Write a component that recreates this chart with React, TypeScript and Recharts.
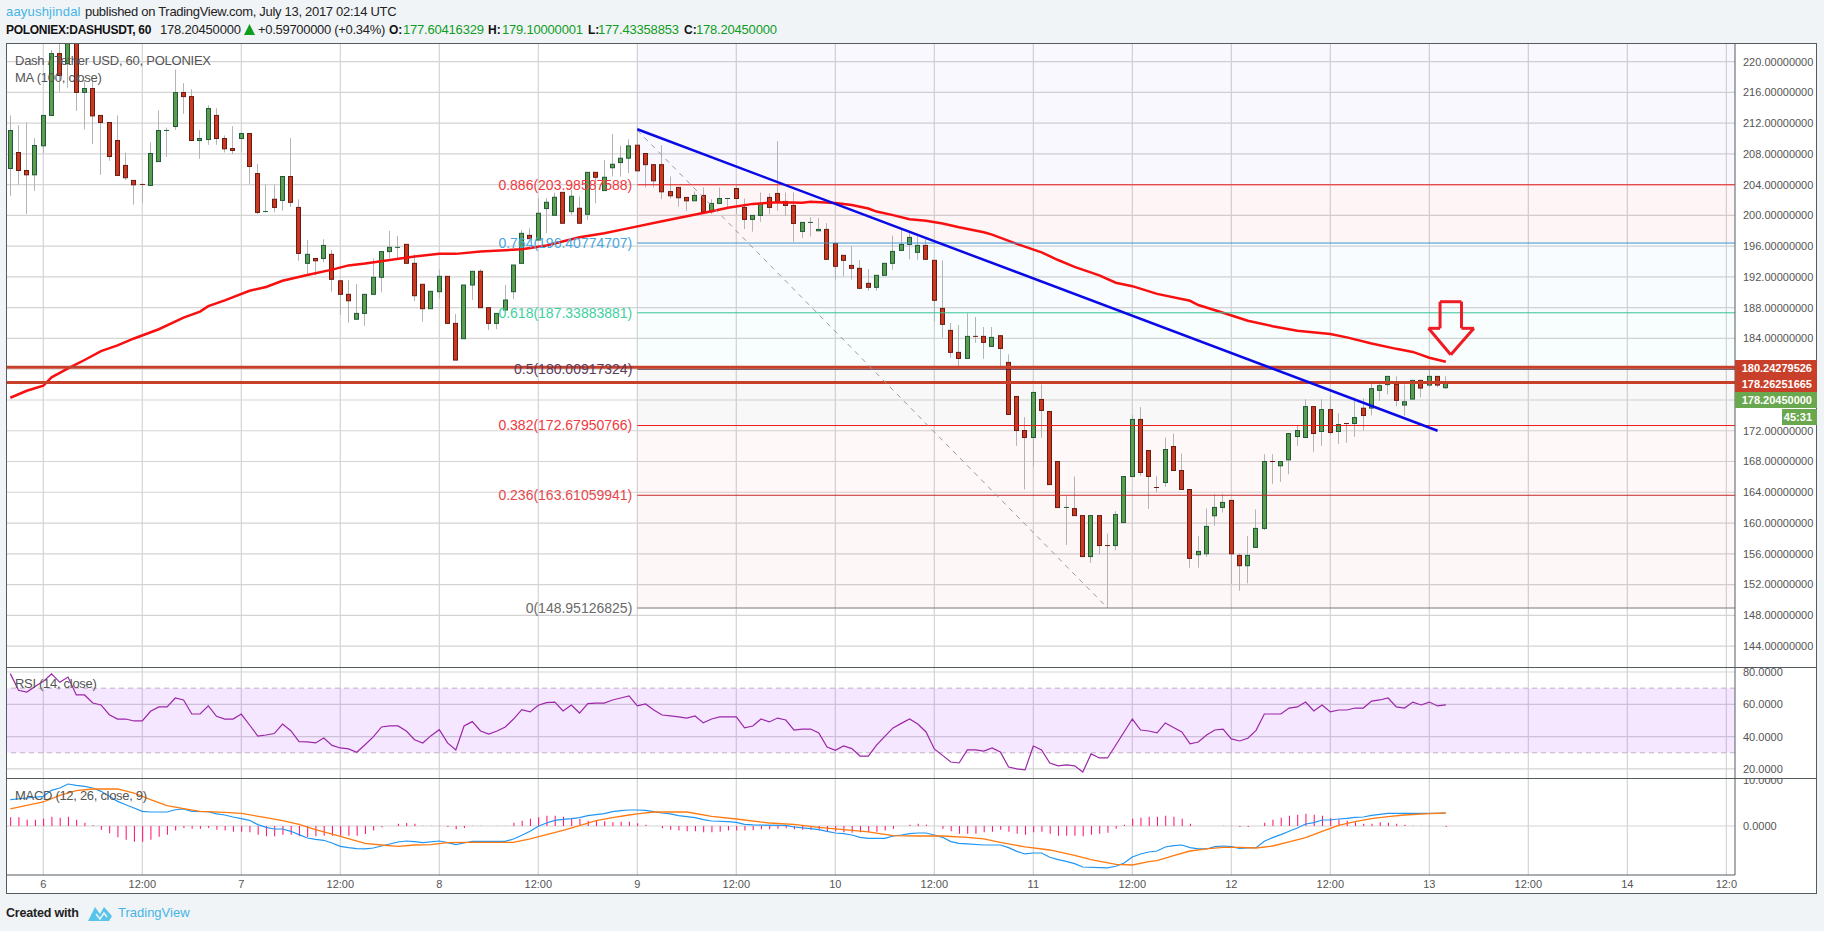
import React from 'react';
import {
  ComposedChart,
  Bar,
  Line,
  XAxis,
  YAxis,
  CartesianGrid,
  ReferenceArea,
  ReferenceLine,
} from 'recharts';

// hours counted from the start of the 6th, one candle per hour
const firstHour = -4;

const opens = [
  206.1, 208.18, 205.84, 205.28, 209.05, 213, 221.04, 219.74, 224.4, 216,
  216.5, 213, 212.08, 209.74, 206.5, 204.55, 204.03, 203.9, 207, 211,
  211.56, 215.97, 215.45, 209.74, 209.87, 213, 210, 208.7, 210, 210.65,
  205.45, 200.4, 202.1, 201.95, 205.06, 201.04, 193.77, 194.4, 194.4, 194.94,
  191.5, 189.74, 186.5, 187.26, 189.74, 191.95, 195.3, 195.85, 196.24, 193.77,
  191.04, 187.87, 190.08, 192.08, 185.96, 183.97, 190.95, 192.73, 188, 185.96,
  187.7, 190.08, 193.77, 197.41, 196.8, 200.89, 200.02, 203, 200.49, 200.93,
  200.15, 205.6, 203.23, 206.2, 206.87, 207.44, 209.13, 208.05, 206.6, 206.6,
  203.1, 203.64, 202.34, 201.9, 202.6, 200.48, 201.56, 202.2, 203.5, 201.04,
  199.48, 200, 202.34, 202.86, 201.82, 201.3, 197.92, 199.09, 198, 198.18,
  196.36, 194.81, 193.5, 193.12, 191.17, 190.65, 192.21, 193.77, 195.45, 196.23,
  195.2, 196.1, 194.16, 187.91, 185.05, 182.19, 181.4, 184.27, 184.27, 182.97,
  184.36, 180.89, 176.46, 172.03, 171.12, 176.07, 174.5, 168, 162.01, 161.88,
  160.97, 155.64, 160.97, 157.07, 157.07, 160.06, 166.05, 173.47, 169.43, 164.62,
  165.27, 169.95, 166.83, 164.36, 155.88, 156, 160.94, 162.03, 162.94, 155.79,
  154.45, 156.83, 159.3, 168, 167.44, 168.22, 171.25, 171.12, 175.14, 171.9,
  174.75, 171.9, 172.94, 172.94, 174.93, 174.95, 177.25, 178, 178.03, 175.34,
  176.12, 178.55, 177.94, 179.07, 177.6,
];
const closes = [
  211.04, 205.84, 205.28, 209.09, 213, 221.04, 218.2, 224, 216, 216.5,
  212.94, 212.08, 207.66, 205.2, 204.9, 203.98, 204, 208.05, 211.04, 211.05,
  215.97, 215.45, 209.74, 210, 213.9, 210, 208.66, 208.44, 210.65, 206.36,
  200.39, 200.5, 201.04, 205.06, 201.7, 195.06, 194.94, 194.1, 196.1, 191.69,
  189.74, 188.9, 187.26, 189.74, 191.95, 195.3, 195.85, 195.85, 193.77, 189.56,
  187.87, 190.13, 192.08, 185.96, 181.19, 190.95, 192.73, 188, 185.96, 187.26,
  189, 193.55, 197.67, 196.98, 200.28, 201.71, 202.36, 198.98, 202.49, 198.98,
  205.6, 204.96, 204.96, 206.65, 207.44, 209.04, 205.8, 206.6, 204.5, 203.07,
  202.55, 202.3, 201.9, 202.6, 200.48, 201.56, 202.2, 202.2, 202.2, 199.48,
  200, 201.56, 201.04, 201.82, 201.3, 198.96, 199.09, 199.09, 198.18, 194.29,
  193.38, 194.16, 193.12, 190.52, 190.65, 192.21, 193.77, 195.32, 196.23, 197.14,
  196.1, 194.29, 188.96, 185.83, 182.19, 181.4, 184.27, 184.24, 183.49, 184.14,
  182.7, 174.12, 172.03, 171.12, 176.98, 174.64, 165, 162.01, 162.03, 160.97,
  155.64, 160.97, 157.07, 157.05, 161.1, 166.05, 173.47, 166.57, 166.05, 164.6,
  169.56, 166.83, 164.36, 155.4, 156.31, 159.56, 162.03, 162.68, 156, 154.45,
  155.79, 159.3, 168, 167.97, 168, 171.64, 172.03, 175.14, 171.64, 174.75,
  171.77, 172.81, 172.92, 173.72, 173.98, 177.47, 177.86, 179.07, 175.95, 175.77,
  178.55, 177.55, 179.07, 177.94, 178.2,
];
const highs = [
  213, 211.73, 212.08, 210.04, 213, 221.5, 223, 225, 225, 217.6,
  217.6, 213, 212.08, 213, 208.2, 204.55, 204.03, 209.5, 213.64, 211.43,
  218.96, 217.19, 216.4, 211.08, 214.33, 213.94, 210.4, 211.6, 210.78, 210.65,
  206.67, 204, 204, 205.06, 210.04, 202.08, 196.8, 194.4, 196.9, 195.5,
  191.6, 191.6, 191.08, 189.74, 194.4, 195.3, 197.98, 197.33, 196.24, 194.94,
  191.04, 190.13, 192.99, 192.08, 187.18, 190.95, 192.73, 193, 188, 187.26,
  190.95, 193.55, 198.1, 198.33, 202.23, 202.23, 202.97, 203, 203.3, 202.45,
  205.6, 205.6, 207.2, 210.6, 209.08, 209.9, 211.43, 208.05, 206.6, 209.13,
  205.06, 203.64, 202.34, 203.12, 203.64, 202.1, 203.64, 202.2, 204.03, 202.2,
  200, 202.99, 202.86, 209.65, 202.99, 202.99, 199.09, 199.74, 199.65, 199,
  196.36, 194.81, 196, 194.2, 193.03, 192.21, 193.77, 197.36, 198.31, 197.92,
  197.36, 197.14, 194.16, 194.16, 186, 185.74, 187.26, 186.79, 185.48, 185.48,
  184.36, 181.93, 176.46, 173.77, 176.98, 178.02, 174.5, 168, 163.49, 166.05,
  160.97, 160.97, 160.97, 158.63, 161.54, 166.05, 174.03, 175.07, 169.43, 166.09,
  171.12, 171.64, 169.04, 164.36, 158.3, 161.9, 163.76, 163.76, 162.94, 156.05,
  158.3, 161.77, 168.95, 168.95, 168, 171.64, 172.7, 176.1, 175.14, 176.1,
  176.62, 174.28, 172.94, 176.31, 176.2, 178.1, 178.26, 179.07, 179.07, 178.03,
  178.55, 178.55, 179.94, 179.07, 179.1,
];
const lows = [
  202.55, 203.98, 200.2, 203.2, 208.1, 212.9, 216.06, 216.6, 213.6, 211.2,
  209.26, 205.28, 207.1, 205.2, 204.6, 201.4, 201.65, 203.9, 207, 207.6,
  211.13, 213.2, 209.74, 207.36, 209.18, 209.18, 208.18, 207.97, 208.18, 204.1,
  200.17, 200.4, 200.4, 200.6, 201.1, 194.1, 192.4, 192.2, 193.9, 190.08,
  187.05, 186.05, 186.48, 185.66, 189.74, 190, 194.4, 194.4, 193.77, 188.87,
  186.18, 187.87, 189.2, 185.96, 181.19, 183.97, 189, 188, 185.09, 185.2,
  187.7, 189.13, 193.77, 196.98, 196.8, 197.67, 200.02, 198.98, 200.06, 198.98,
  199.41, 201.58, 203.23, 205.05, 205.05, 205.5, 205.8, 203.64, 203.64, 202.1,
  202.2, 201.13, 200.6, 201.9, 200.48, 200.17, 201.56, 201.04, 200.17, 198.23,
  197.88, 199.18, 200.17, 200.6, 199.96, 196.58, 197.06, 197.27, 198, 194.29,
  191.65, 192.08, 191.65, 190.43, 190.2, 190.2, 192.21, 192.94, 195.45, 194.29,
  194.24, 194.29, 186.19, 184.1, 181.5, 180.4, 181.4, 183.44, 181.36, 182.97,
  180.4, 174.12, 170.04, 164.36, 167.3, 171.08, 165, 162.01, 157.15, 160.97,
  155.64, 154.81, 155.9, 148.95, 156.46, 160.06, 166.05, 166.13, 161.84, 164.05,
  164.7, 166.83, 164.36, 154.19, 154.19, 155.6, 159.65, 161.38, 152.07, 151.2,
  152.15, 156.83, 159.08, 165.1, 165.36, 166.35, 170.03, 171.12, 169.26, 170.03,
  171.5, 170.29, 170.42, 171.2, 172.03, 174, 175.86, 176.73, 175.17, 173.95,
  176.12, 176.34, 177.68, 177.68, 177.43,
];

// MA(100), only read where the curve bends: [hour, price]
const maPoints = [
  [-4, 176.29], [-2, 177.2], [0, 177.85], [1, 178.95], [3, 180.1], [5, 181.2], [7, 182.35], [9, 183.1],
  [11, 184], [14, 185.2], [17, 186.7], [19, 187.5], [20, 188.2], [22, 188.95], [25, 190.2], [27, 190.7],
  [29, 191.5], [32, 192.25], [35, 192.95], [37, 193.5], [39, 193.75], [42, 194.2], [45, 194.65], [48, 195],
  [50, 195], [53, 195.3], [58, 195.6], [61, 196.1], [65, 197.15], [68, 197.67], [71, 198.35], [75, 199.25],
  [78, 199.9], [81, 200.55], [83, 201], [86, 201.5], [89, 201.7], [92, 201.65], [93, 201.77], [96, 201.6],
  [98, 201.35], [100, 200.9], [101, 200.5], [103, 200.04], [105, 199.5], [107, 199.3], [109, 198.95], [111, 198.45],
  [114, 197.8], [115, 197.5], [118, 196.3], [121, 195.2], [123, 194.2], [125, 193.3], [128, 192.2], [130, 191.25],
  [132, 190.8], [135, 189.8], [139, 188.9], [140, 188.35], [143, 187.35], [146, 186.3], [149, 185.6], [152, 185],
  [156, 184.57], [158, 184.14], [161, 183.35], [164, 182.65], [166, 182.25], [168, 181.5], [170, 180.97],
];

const rsiValues = [
  79, 68.7, 67.6, 71.1, 74.2, 78.8, 73.6, 76.9, 65.8, 65.8,
  60.8, 59.6, 53.6, 50.9, 50.9, 49.7, 49.7, 55.7, 58.4, 58.4,
  63.9, 62.7, 54, 54, 59, 52.6, 50.9, 50.9, 54, 47.2,
  40.4, 41, 41.9, 47.8, 43.7, 36.9, 36.7, 36.1, 39.2, 34.6,
  33, 32.4, 30.3, 35, 39.8, 46, 46.6, 46.6, 43.5, 38.1,
  36.1, 40.6, 44.3, 36.1, 31.8, 46.6, 49.3, 43.5, 41.6, 43.5,
  46, 50.9, 56.7, 55.3, 59.4, 61, 61.4, 55.9, 59.6, 54.6,
  60.4, 60.8, 60.8, 62.7, 63.9, 65.2, 59, 60.2, 56.5, 53.4,
  52.8, 52.2, 51.5, 52.8, 48.5, 50.9, 52.2, 52.2, 52.2, 45.4,
  46.6, 50.9, 49.1, 51.5, 50.3, 44.1, 44.7, 44.7, 42.3, 33.6,
  31.5, 34.2, 32.6, 28, 28, 34.8, 40.2, 45.4, 48.2, 50.9,
  47.8, 42.9, 32.4, 28.4, 24.3, 23.7, 31.8, 31.8, 31.1, 33,
  30.5, 21.2, 20, 19.4, 34.2, 31.8, 23.7, 21.9, 22.5, 21.9,
  18.1, 29.3, 26.8, 26.8, 34.8, 42.9, 50.9, 44.1, 43.5, 42.3,
  48.5, 45.6, 42.9, 35.5, 36.7, 41, 44.1, 44.7, 38.6, 37.3,
  39, 43.9, 54, 54, 54, 57.7, 58.4, 61.4, 55.9, 59.6,
  55.3, 56.5, 56.5, 57.7, 57.7, 62, 62.7, 63.9, 58.4, 57.7,
  61.4, 59.6, 61.4, 59, 59.6,
];

const macdHist = [
  1.87, 1.87, 1.37, 1.37, 1.58, 2, 1.8, 2, 1.37, 0.72,
  0.14, -0.79, -1.58, -2.45, -2.95, -3.38, -3.38, -2.95, -2.3, -1.87,
  -1, -0.43, -0.58, -0.58, -0.43, -0.79, -1, -1.22, -1.22, -1.37,
  -1.87, -2.23, -2.23, -1.87, -1.87, -2.23, -2.37, -2.23, -2.09, -2.09,
  -2.09, -2.09, -2.09, -1.73, -1, -0.29, 0, 0.5, 0.65, 0.5,
  0.07, 0.07, 0.07, -0.22, -0.72, -0.43, 0.07, 0.07, 0, 0.07,
  0.07, 0.72, 1.15, 1.58, 1.87, 2.23, 2.23, 2, 1.73, 1.51,
  1.15, 1.15, 1, 0.79, 0.94, 0.94, 0.58, 0.29, 0, -0.5,
  -0.79, -1, -1.15, -1.15, -1.37, -1.37, -1.22, -1, -1, -1,
  -0.94, -0.72, -0.72, -0.58, -0.5, -0.72, -0.79, -0.79, -0.94, -1.15,
  -1.15, -1.37, -1.44, -1.37, -1.29, -1.22, -1, -0.58, 0, 0.29,
  0.5, 0.29, 0, -0.58, -1.15, -1.65, -1.65, -1.65, -1.37, -1.22,
  -0.79, -1.22, -1.65, -1.87, -1.37, -1.22, -1.65, -2.09, -2.09, -2.09,
  -2.23, -1.87, -1.65, -1.44, -0.58, 0.29, 1.58, 1.8, 2.01, 2.01,
  2.23, 2.01, 1.58, 0.5, 0, 0, 0, 0.07, 0.07, -0.22,
  -0.22, 0, 0.72, 1.37, 1.8, 2.23, 2.45, 2.66, 2.45, 2.23,
  1.73, 1.44, 1.15, 0.79, 0.5, 0.5, 0.79, 0.72, 0.5, 0.29,
  0.07, 0.07, 0.07, 0, -0.22,
];

const macdPoints = [
  [-4, 5.68], [-2, 6.04], [0, 6.4], [1, 7.7], [2, 8.2], [3, 9.06], [4, 8.78], [5, 8.56], [6, 8.2], [7, 7.48],
  [8, 6.4], [9, 5.32], [10, 4.6], [11, 3.88], [12, 3.17], [13, 3.02], [15, 3.02], [16, 3.5], [17, 3.67], [18, 3.17],
  [20, 3.1], [21, 2.6], [22, 2.37], [23, 1.94], [24, 1.58], [25, 1.22], [26, 0.29], [27, -0.29], [28, -0.65], [29, -0.65],
  [30, -1.15], [31, -1.87], [32, -2.59], [33, -2.88], [34, -3.09], [35, -3.67], [36, -4.39], [37, -4.68], [38, -4.89], [39, -4.96],
  [40, -4.75], [41, -4.32], [42, -3.88], [43, -3.45], [44, -3.24], [45, -3.38], [46, -3.6], [48, -3.24], [49, -3.6], [50, -4.03],
  [51, -3.67], [52, -3.31], [56, -3.31], [57, -2.8], [58, -2], [59, -1.15], [60, -0.07], [61, 0.65], [62, 1.22], [63, 1.44],
  [64, 1.58], [65, 1.8], [66, 2.23], [67, 2.45], [68, 2.66], [69, 3.1], [70, 3.31], [71, 3.45], [72, 3.45], [73, 3.38],
  [74, 3.1], [75, 2.8], [76, 2.6], [77, 2.23], [79, 1.8], [80, 1.37], [81, 1.08], [83, 0.94], [84, 0.79], [85, 0.36],
  [86, 0.22], [90, 0.14], [91, -0.22], [93, -0.58], [94, -0.79], [95, -1.15], [96, -1.51], [97, -1.65], [98, -1.94], [99, -2.45],
  [100, -2.66], [102, -2.66], [103, -2.16], [104, -1.94], [105, -1.65], [106, -1.51], [107, -1.51], [108, -1.94], [109, -2.45], [110, -3.38],
  [111, -3.74], [112, -3.88], [114, -4.1], [116, -4.1], [117, -4.68], [118, -5.47], [119, -6.04], [120, -5.83], [121, -5.83], [122, -6.76],
  [123, -7.27], [124, -7.63], [125, -8.13], [126, -8.85], [128, -8.99], [129, -9.06], [130, -8.7], [131, -7.99], [132, -6.69], [133, -6.04],
  [134, -5.61], [135, -5.4], [136, -4.53], [137, -4.24], [138, -4.1], [139, -4.68], [140, -4.96], [141, -4.96], [142, -4.46], [143, -4.32],
  [144, -4.46], [145, -4.82], [146, -4.75], [147, -4.68], [148, -3.31], [149, -2.52], [150, -1.87], [151, -1.15], [152, -0.43], [153, 0.43],
  [154, 0.72], [155, 1.29], [156, 1.29], [157, 1.51], [158, 1.65], [159, 1.87], [160, 1.94], [161, 2.3], [162, 2.52], [163, 2.73],
  [169, 2.73], [170, 2.8],
];

const signalPoints = [
  [-4, 3.67], [-2, 4.46], [0, 5.18], [2, 6.62], [4, 7.63], [6, 7.99], [9, 7.99], [11, 7.12], [13, 5.68], [15, 4.39],
  [17, 3.74], [19, 3.17], [22, 2.95], [24, 2.73], [27, 1.8], [29, 1.15], [31, 0.36], [33, -0.79], [36, -2.23], [39, -3.74],
  [41, -4.1], [43, -4.39], [45, -4.1], [47, -4.03], [49, -3.6], [51, -3.53], [57, -3.53], [59, -2.8], [61, -1.87], [63, -0.94],
  [65, 0.07], [67, 1.15], [69, 1.8], [71, 2.37], [72, 2.6], [74, 3.02], [78, 3.02], [81, 2.09], [84, 1.51], [88, 0.65],
  [91, 0.36], [94, -0.29], [97, -0.79], [100, -1.29], [103, -2.09], [106, -2.16], [109, -2.16], [112, -2.45], [114, -2.8], [116, -3.53],
  [119, -4.53], [122, -5.18], [125, -6.33], [127, -7.27], [130, -8.27], [132, -8.42], [134, -7.7], [135, -7.48], [137, -6.4], [139, -5.4],
  [141, -4.96], [143, -4.6], [145, -4.6], [147, -4.75], [149, -4.32], [151, -3.45], [153, -2.52], [155, -1.15], [157, 0.14], [159, 0.94],
  [161, 1.58], [163, 2.01], [165, 2.37], [168, 2.66], [170, 2.8],
];

const priceTicks = [144, 148, 152, 156, 160, 164, 168, 172, 176, 180, 184, 188, 192, 196, 200, 204, 208, 212, 216, 220];
const rsiTicks = [20, 40, 60, 80];
const macdTicks = [0, 10];
const hourTicks = [0, 12, 24, 36, 48, 60, 72, 84, 96, 108, 120, 132, 144, 156, 168, 180, 192, 204];
const hourLabels = ['6', '12:00', '7', '12:00', '8', '12:00', '9', '12:00', '10', '12:00', '11', '12:00', '12', '12:00', '13', '12:00', '14', '12:0'];

const fibRatios = ['0', '0.236', '0.382', '0.5', '0.618', '0.764', '0.886'];
const fibPrices = [148.95126825, 163.61059941, 172.67950766, 180.00917324, 187.33883881, 196.40774707, 203.98587588];
const fibLabels = ['148.95126825', '163.61059941', '172.67950766', '180.00917324', '187.33883881', '196.40774707', '203.98587588'];
const fibLineColors = ['#787878', '#c8282c', '#ee1c1c', '#4a2440', '#35c595', '#3d94cf', '#ee1c1c'];
const fibTextColors = ['#6a6a6a', '#e4484c', '#f0393e', '#5c3a58', '#3ed1a0', '#48a6dc', '#f0393e'];
const fibBandColors = ['#d82020', '#e83030', '#888888', '#22c8b8', '#30a8e0', '#f02020', '#4a4af0'];
const fibBandOpacity = [0.035, 0.035, 0.06, 0.03, 0.03, 0.04, 0.04];
const pricedLines = [180.24279526, 178.26251665];

const trendHours = [72, 169];
const trendPrices = [211.2, 172];
const fibDiagonalHours = [72, 129];
const fibDiagonalPrices = [211.07, 148.95];
const arrowHours = [169.3, 171.9, 171.9, 173.4, 170.6, 167.9, 169.3, 169.3];
const arrowPrices = [188.78, 188.78, 185.32, 185.32, 181.88, 185.32, 185.32, 188.78];

const X_DOMAIN: [number, number] = [-4.52, 205.05];
const PRICE_DOMAIN: [number, number] = [141.28, 222.29];
const RSI_DOMAIN: [number, number] = [14.4, 83.1];
const MACD_DOMAIN: [number, number] = [-10.58, 10.36];

const FONT = '"Liberation Sans", Arial, sans-serif';
const GRID = '#d4d4d4';
const FRAME = '#555c60';
const BLUE_LINK = '#45b4e6';
const UP_GREEN = '#0f9d1e';

const lookup = (points: number[][], hour: number) => {
  const hit = points.find((p) => p[0] === hour);
  return hit ? hit[1] : null;
};

const rows = opens.map((open, i) => {
  const hour = firstHour + i;
  return {
    hour,
    open,
    close: closes[i],
    range: [lows[i], highs[i]],
    ma: lookup(maPoints, hour),
    rsi: rsiValues[i],
    hist: macdHist[i],
    macd: lookup(macdPoints, hour),
    signal: lookup(signalPoints, hour),
  };
});

// wick and body, scaled from the rectangle the Bar gives for low..high
const Candle = (props: any) => {
  const { x, y, width, height, payload } = props;
  const [low, high] = payload.range;
  const perUnit = height / (high - low);
  const cx = Math.round(x + width / 2) - 0.5;
  const up = payload.close >= payload.open;
  const top = y + (high - Math.max(payload.open, payload.close)) * perUnit;
  const bottom = y + (high - Math.min(payload.open, payload.close)) * perUnit;
  const stroke = up ? '#1e5a3a' : '#6b1a12';
  const fill = up ? '#5b9d4c' : '#c8391f';
  return (
    <g>
      <line x1={cx} x2={cx} y1={y} y2={y + height} stroke="#b4b4b4" strokeWidth={1} />
      {bottom - top < 1 ? (
        <line x1={cx - 2.5} x2={cx + 2.5} y1={top} y2={top} stroke={stroke} strokeWidth={1} />
      ) : (
        <rect x={cx - 2} y={top} width={4} height={bottom - top} fill={fill} stroke={stroke} strokeWidth={1} />
      )}
    </g>
  );
};

const tickStyle = { fontSize: 11, fill: '#555', fontFamily: FONT };
const priceFormat = (v: number) => v.toFixed(8);
const paneFormat = (v: number) => v.toFixed(4);
const hourFormat = (v: number) => hourLabels[hourTicks.indexOf(v)] ?? '';

const Abs = ({ x, y, color, size = 13, weight, spacing = 0, children }: any) => (
  <div
    style={{
      position: 'absolute',
      left: x,
      top: y,
      color,
      fontSize: size,
      fontWeight: weight,
      fontFamily: FONT,
      letterSpacing: spacing,
      lineHeight: '16px',
      whiteSpace: 'nowrap',
      zIndex: 5,
    }}
  >
    {children}
  </div>
);

const PriceTag = ({ y, h = 16, x = 1735, bg, children }: any) => (
  <div
    style={{
      position: 'absolute',
      left: x,
      top: y,
      width: 1817 - x,
      height: h,
      lineHeight: h + 'px',
      background: bg,
      color: '#fff',
      fontFamily: FONT,
      fontSize: 11,
      fontWeight: 700,
      textAlign: 'right',
      paddingRight: 5,
      boxSizing: 'border-box',
      zIndex: 5,
    }}
  >
    {children}
  </div>
);

const App: React.FC = () => {
  return (
    <div style={{ position: 'absolute', left: 0, top: 0, width: 1824, height: 931, background: '#f1f4f7', overflow: 'hidden' }}>
      <Abs x={6} y={4} color={BLUE_LINK} spacing={0.2}>aayushjindal</Abs>
      <Abs x={85} y={4} color="#222" spacing={-0.3}>published on TradingView.com, July 13, 2017 02:14 UTC</Abs>
      <Abs x={6} y={21.5} color="#111" size={12} weight={700} spacing={-0.3}>POLONIEX:DASHUSDT, 60</Abs>
      <Abs x={160} y={21.5} color="#222" spacing={-0.2}>178.20450000</Abs>
      <svg style={{ position: 'absolute', left: 244, top: 24 }} width={11} height={11}>
        <polygon points="0,11 5.5,0 11,11" fill={UP_GREEN} />
      </svg>
      <Abs x={258} y={21.5} color="#222" spacing={-0.3}>+0.59700000 (+0.34%)</Abs>
      <Abs x={389} y={21.5} color="#111" size={12} weight={700}>O:</Abs>
      <Abs x={403} y={21.5} color={UP_GREEN} spacing={-0.2}>177.60416329</Abs>
      <Abs x={488} y={21.5} color="#111" size={12} weight={700}>H:</Abs>
      <Abs x={502} y={21.5} color={UP_GREEN} spacing={-0.2}>179.10000001</Abs>
      <Abs x={588} y={21.5} color="#111" size={12} weight={700}>L:</Abs>
      <Abs x={598} y={21.5} color={UP_GREEN} spacing={-0.2}>177.43358853</Abs>
      <Abs x={684} y={21.5} color="#111" size={12} weight={700}>C:</Abs>
      <Abs x={696} y={21.5} color={UP_GREEN} spacing={-0.2}>178.20450000</Abs>

      {/* frame of the whole widget */}
      <div style={{ position: 'absolute', left: 6, top: 43, width: 1811, height: 851, background: '#fff' }} />

      <div style={{ position: 'absolute', left: 6, top: 44 }}>
        <ComposedChart width={1811} height={623} data={rows} margin={{ top: 0, right: 0, bottom: 0, left: 0 }}>
          <CartesianGrid stroke={GRID} strokeWidth={1.2} verticalValues={hourTicks} horizontalValues={priceTicks} />
          <XAxis type="number" dataKey="hour" domain={X_DOMAIN} allowDataOverflow ticks={hourTicks} hide />
          <YAxis
            orientation="right"
            width={82}
            domain={PRICE_DOMAIN}
            allowDataOverflow
            ticks={priceTicks}
            interval={0}
            tickFormatter={priceFormat}
            tick={tickStyle}
            tickLine={false}
            axisLine={{ stroke: FRAME }}
          />
          {fibPrices.map((price, i) => (
            <ReferenceArea
              key={'band' + i}
              x1={72}
              x2={X_DOMAIN[1]}
              y1={price}
              y2={i < fibPrices.length - 1 ? fibPrices[i + 1] : PRICE_DOMAIN[1]}
              fill={fibBandColors[i]}
              fillOpacity={fibBandOpacity[i]}
              stroke="none"
            />
          ))}
          <Bar dataKey="range" barSize={5} shape={Candle} isAnimationActive={false} />
          <Line dataKey="ma" stroke="#f80f0f" strokeWidth={2.5} dot={false} connectNulls isAnimationActive={false} />
          {fibPrices.map((price, i) => (
            <ReferenceLine
              key={'fib' + i}
              segment={[{ x: 72, y: price }, { x: X_DOMAIN[1], y: price }]}
              stroke={fibLineColors[i]}
              strokeWidth={1}
              label={{
                value: `${fibRatios[i]}(${fibLabels[i]})`,
                position: 'left',
                fill: fibTextColors[i],
                fontSize: 14,
                fontFamily: FONT,
              }}
            />
          ))}
          {pricedLines.map((price) => (
            <ReferenceLine key={price} y={price} stroke="#c8402a" strokeWidth={3} />
          ))}
          <ReferenceLine
            segment={[{ x: fibDiagonalHours[0], y: fibDiagonalPrices[0] }, { x: fibDiagonalHours[1], y: fibDiagonalPrices[1] }]}
            stroke="#9a9a9a"
            strokeDasharray="5 5"
          />
          <ReferenceLine
            segment={[{ x: trendHours[0], y: trendPrices[0] }, { x: trendHours[1], y: trendPrices[1] }]}
            stroke="#0a0ae6"
            strokeWidth={2.5}
          />
          {arrowHours.slice(1).map((hour, i) => (
            <ReferenceLine
              key={'arrow' + i}
              segment={[{ x: arrowHours[i], y: arrowPrices[i] }, { x: hour, y: arrowPrices[i + 1] }]}
              stroke="#ee1c25"
              strokeWidth={3}
            />
          ))}
        </ComposedChart>
      </div>

      <div style={{ position: 'absolute', left: 6, top: 667 }}>
        <ComposedChart width={1811} height={111} data={rows} margin={{ top: 0, right: 0, bottom: 0, left: 0 }}>
          <CartesianGrid stroke={GRID} strokeWidth={1.2} verticalValues={hourTicks} horizontalValues={rsiTicks} />
          <XAxis type="number" dataKey="hour" domain={X_DOMAIN} allowDataOverflow ticks={hourTicks} hide />
          <YAxis
            orientation="right"
            width={82}
            domain={RSI_DOMAIN}
            allowDataOverflow
            ticks={rsiTicks}
            interval={0}
            tickFormatter={paneFormat}
            tick={tickStyle}
            tickLine={false}
            axisLine={{ stroke: FRAME }}
          />
          <ReferenceArea y1={30} y2={70} fill="#9915ff" fillOpacity={0.1} stroke="none" />
          <ReferenceLine y={70} stroke="#c4aec8" strokeDasharray="5 4" />
          <ReferenceLine y={30} stroke="#c4aec8" strokeDasharray="5 4" />
          <Line dataKey="rsi" stroke="#9c27a8" strokeWidth={1.2} dot={false} isAnimationActive={false} />
        </ComposedChart>
      </div>

      <div style={{ position: 'absolute', left: 6, top: 778 }}>
        <ComposedChart width={1811} height={116} data={rows} margin={{ top: 0, right: 0, bottom: 0, left: 0 }}>
          <CartesianGrid stroke={GRID} strokeWidth={1.2} verticalValues={hourTicks} horizontalValues={[0]} />
          <XAxis
            type="number"
            dataKey="hour"
            domain={X_DOMAIN}
            allowDataOverflow
            ticks={hourTicks}
            interval={0}
            tickFormatter={hourFormat}
            height={19}
            tick={tickStyle}
            tickLine={false}
            tickSize={1}
            tickMargin={4}
            axisLine={{ stroke: FRAME }}
          />
          <YAxis
            orientation="right"
            width={82}
            domain={MACD_DOMAIN}
            allowDataOverflow
            ticks={macdTicks}
            interval={0}
            tickFormatter={paneFormat}
            tick={tickStyle}
            tickLine={false}
            axisLine={{ stroke: FRAME }}
          />
          <Bar dataKey="hist" barSize={1} fill="#ff0a6e" isAnimationActive={false} />
          <Line dataKey="macd" stroke="#2196f3" strokeWidth={1.2} dot={false} connectNulls isAnimationActive={false} />
          <Line dataKey="signal" stroke="#ff7a10" strokeWidth={1.3} dot={false} connectNulls isAnimationActive={false} />
        </ComposedChart>
      </div>

      {/* pane separators and frame, drawn over the plots */}
      <div style={{ position: 'absolute', left: 6, top: 667, width: 1811, height: 1, background: FRAME, zIndex: 4 }} />
      <div style={{ position: 'absolute', left: 6, top: 778, width: 1811, height: 1, background: FRAME, zIndex: 4 }} />
      <div style={{ position: 'absolute', left: 6, top: 43, width: 1, height: 851, background: FRAME, zIndex: 4 }} />
      <div style={{ position: 'absolute', left: 1816, top: 43, width: 1, height: 851, background: FRAME, zIndex: 4 }} />
      <div style={{ position: 'absolute', left: 6, top: 43, width: 1811, height: 1, background: FRAME, zIndex: 4 }} />
      <div style={{ position: 'absolute', left: 6, top: 893, width: 1811, height: 1, background: FRAME, zIndex: 4 }} />

      <Abs x={15} y={53} color="#555" spacing={-0.25}>Dash / Tether USD, 60, POLONIEX</Abs>
      <Abs x={15} y={70} color="#555" spacing={-0.25}>MA (100, close)</Abs>
      <Abs x={15} y={676} color="#555" spacing={-0.3}>RSI (14, close)</Abs>
      <Abs x={15} y={788} color="#555" spacing={-0.3}>MACD (12, 26, close, 9)</Abs>

      <PriceTag y={360} bg="#c8402a">180.24279526</PriceTag>
      <PriceTag y={376} bg="#c8402a">178.26251665</PriceTag>
      <PriceTag y={392} bg="#6aa84f">178.20450000</PriceTag>
      <PriceTag y={409} x={1782} bg="#6aa84f">45:31</PriceTag>

      <Abs x={6} y={905} color="#222" size={12.5} weight={700} spacing={-0.2}>Created with</Abs>
      <svg style={{ position: 'absolute', left: 88, top: 904 }} width={24} height={19} viewBox="0 0 24 19">
        <path d="M0 17 L7 3 L12 10 L16 3 L24 12 L21 17 Z" fill="#57c4e8" />
        <path d="M8 10 L12 15 L16 9 L19 13" fill="none" stroke="#f1f4f7" strokeWidth={1.5} />
      </svg>
      <Abs x={118} y={905} color={BLUE_LINK}>TradingView</Abs>
    </div>
  );
};

export default App;
